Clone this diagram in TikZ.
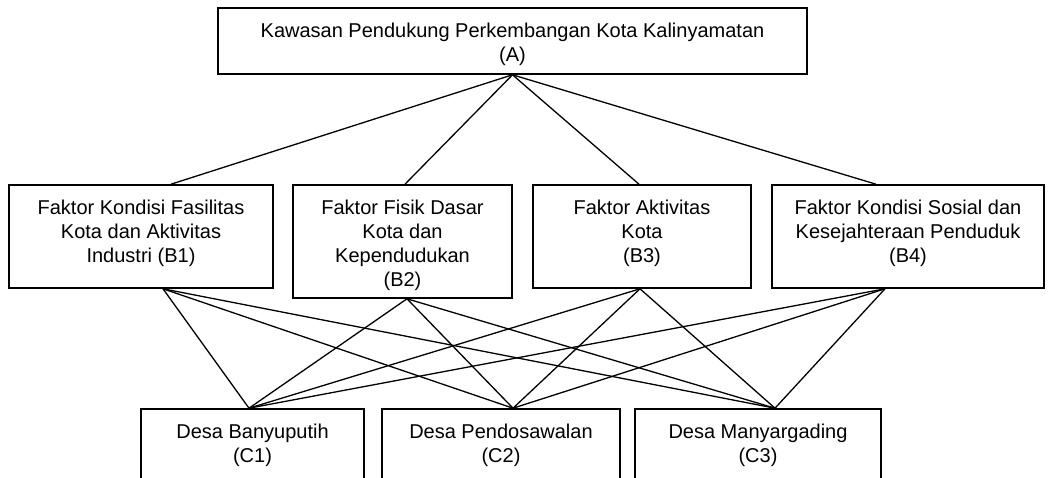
\documentclass[tikz,border=0pt]{standalone}
\usepackage{fontspec}
\setmainfont{Liberation Sans}
\usetikzlibrary{calc}

\begin{document}
\begin{tikzpicture}[x=1pt,y=-1pt,
    kotak/.style={draw, line width=1.6pt, inner sep=0pt},
    teks/.style={anchor=north, align=center, inner sep=0pt, font=\fontsize{20}{24}\selectfont},
    garis/.style={line width=1.3pt}]
    \useasboundingbox (0,0) rectangle (1049,478);
    \clip (0,0) rectangle (1049,478);

    % Tujuan (A)
    \node[kotak, minimum width=589pt, minimum height=66pt] (A) at (512.5,41) {};

    % Kriteria (B1--B4)
    \node[kotak, minimum width=264pt, minimum height=103pt] (B1) at (141,236.5) {};
    \node[kotak, minimum width=219pt, minimum height=113pt] (B2) at (402.5,241.5) {};
    \node[kotak, minimum width=218pt, minimum height=103pt] (B3) at (642,236.5) {};
    \node[kotak, minimum width=272pt, minimum height=103pt] (B4) at (908,236.5) {};

    % Alternatif (C1--C3), bawahnya terpotong
    \node[kotak, minimum width=223pt, minimum height=80pt] (C1) at (252.5,449) {};
    \node[kotak, minimum width=238pt, minimum height=80pt] (C2) at (501,449) {};
    \node[kotak, minimum width=246pt, minimum height=80pt] (C3) at (758,449) {};

    % Teks
    \node[teks] (tA) at ([yshift=-15.5pt]A.north) {Kawasan Pendukung Perkembangan Kota Kalinyamatan\\(A)};
    \node[teks] (tB1) at ([yshift=-15.5pt]B1.north) {Faktor Kondisi Fasilitas\\Kota dan Aktivitas\\Industri (B1)};
    \node[teks] (tB2) at ([yshift=-15.5pt]B2.north) {Faktor Fisik Dasar\\Kota dan\\Kependudukan\\(B2)};
    \node[teks] (tB3) at ([yshift=-15.5pt]B3.north) {Faktor Aktivitas\\Kota\\(B3)};
    \node[teks] (tB4) at ([yshift=-15.5pt]B4.north) {Faktor Kondisi Sosial dan\\Kesejahteraan Penduduk\\(B4)};
    \node[teks] (tC1) at ([yshift=-15.5pt]C1.north) {Desa Banyuputih\\(C1)};
    \node[teks] (tC2) at ([yshift=-15.5pt]C2.north) {Desa Pendosawalan\\(C2)};
    \node[teks] (tC3) at ([yshift=-15.5pt]C3.north) {Desa Manyargading\\(C3)};

    % Titik sambung
    \coordinate (B1a) at ([xshift=30pt]B1.north);
    \coordinate (B2a) at ([xshift=2.5pt]B2.north);
    \coordinate (B3a) at ([xshift=-3pt]B3.north);
    \coordinate (B4a) at ([xshift=-32pt]B4.north);
    \coordinate (B1b) at ([xshift=22pt]B1.south);
    \coordinate (B2b) at ([xshift=4.5pt]B2.south);
    \coordinate (B3b) at ([xshift=-2pt]B3.south);
    \coordinate (B4b) at ([xshift=-23pt]B4.south);
    \coordinate (C1a) at ([xshift=-3.5pt]C1.north);
    \coordinate (C2a) at ([xshift=12pt]C2.north);
    \coordinate (C3a) at ([xshift=17pt]C3.north);

    % Garis A ke B
    \foreach \b in {B1a,B2a,B3a,B4a}
        \draw[garis] (A.south) -- (\b);

    % Garis B ke C
    \foreach \b in {B1b,B2b,B3b,B4b}
        \foreach \c in {C1a,C2a,C3a}
            \draw[garis] (\b) -- (\c);
\end{tikzpicture}
\end{document}
